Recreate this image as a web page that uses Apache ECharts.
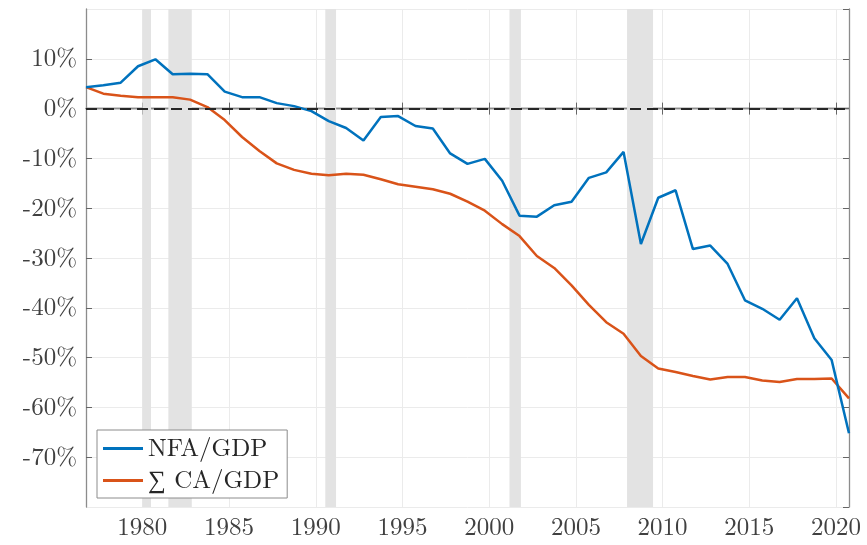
<!DOCTYPE html>
<html>
<head>
<meta charset="utf-8">
<script src="https://cdn.jsdelivr.net/npm/echarts@6/dist/echarts.min.js"></script>
<style>
  html, body { margin: 0; padding: 0; background: #fff; }
  #chart { width: 867px; height: 545px; }
</style>
</head>
<body>
<div id="chart"></div>
<script>
// years of observation (points sit at the end of Q3 of each year)
const years = [1976, 1977, 1978, 1979, 1980, 1981, 1982, 1983, 1984, 1985,
  1986, 1987, 1988, 1989, 1990, 1991, 1992, 1993, 1994, 1995,
  1996, 1997, 1998, 1999, 2000, 2001, 2002, 2003, 2004, 2005,
  2006, 2007, 2008, 2009, 2010, 2011, 2012, 2013, 2014, 2015,
  2016, 2017, 2018, 2019, 2020];
const yearOffset = 0.75;

// NFA/GDP, %
const nfa = [4.3, 4.7, 5.2, 8.5, 9.9, 6.9, 7.0, 6.9, 3.4, 2.3,
  2.3, 1.1, 0.5, -0.5, -2.5, -3.9, -6.4, -1.7, -1.5, -3.5,
  -4.0, -9.0, -11.1, -10.1, -14.5, -21.5, -21.7, -19.4, -18.7, -13.9,
  -12.8, -8.7, -27.2, -17.9, -16.4, -28.2, -27.5, -31.2, -38.5, -40.2,
  -42.4, -38.1, -46.1, -50.5, -65.2];

// cumulated CA/GDP, %
const cumCA = [4.3, 3.0, 2.6, 2.3, 2.3, 2.3, 1.8, 0.3, -2.3, -5.7,
  -8.5, -11.0, -12.3, -13.1, -13.4, -13.1, -13.3, -14.2, -15.2, -15.7,
  -16.2, -17.1, -18.7, -20.5, -23.2, -25.6, -29.6, -32.0, -35.5, -39.4,
  -42.9, -45.2, -49.7, -52.2, -52.9, -53.7, -54.4, -53.9, -53.9, -54.6,
  -54.9, -54.3, -54.3, -54.2, -58.2];

// recession bands (start, end)
const recessions = [[1980.0, 1980.5], [1981.5, 1982.85], [1990.55, 1991.17],
  [2001.17, 2001.83], [2007.95, 2009.45]];

const xTicks = [1980, 1985, 1990, 1995, 2000, 2005, 2010, 2015, 2020];
const xMin = 1976.75, xMax = 2020.75;

const font = "'Latin Modern Roman', 'Liberation Serif', serif";
const axisGray = '#8c8c8c';

const chart = echarts.init(document.getElementById('chart'));

const toPoints = vals => vals.map((v, i) => [years[i] + yearOffset, v]);

const option = {
  animation: false,
  grid: { left: 86, right: 18, top: 9, bottom: 38 },
  legend: {
    left: 97, top: 430,
    orient: 'vertical',
    icon: 'rect',
    itemWidth: 40, itemHeight: 3, itemGap: 7,
    padding: [6, 8, 5, 6],
    borderColor: '#8c8c8c', borderWidth: 1,
    backgroundColor: '#fff',
    textStyle: { fontFamily: font, fontSize: 25, color: '#262626', lineHeight: 24 },
    data: ['NFA/GDP', '∑ CA/GDP']
  },
  xAxis: [{
    type: 'value', min: xMin, max: xMax,
    axisLine: { show: true, lineStyle: { color: axisGray, width: 1.3 } },
    axisTick: { show: true, inside: true, length: 6, customValues: xTicks, lineStyle: { color: '#666' } },
    axisLabel: {
      customValues: xTicks, margin: 8, fontFamily: font, fontSize: 25, color: '#404040',
      formatter: v => String(v)
    },
    splitLine: { show: true, lineStyle: { color: '#ebebeb', width: 1 } }
  }, {
    type: 'value', min: xMin, max: xMax, position: 'top',
    axisLine: { show: true, lineStyle: { color: axisGray, width: 1.3 } },
    axisTick: { show: true, inside: true, length: 6, customValues: xTicks, lineStyle: { color: '#666' } },
    axisLabel: { show: false },
    splitLine: { show: false }
  }],
  yAxis: [{
    type: 'value', min: -80, max: 20, interval: 10,
    axisLine: { show: true, lineStyle: { color: axisGray, width: 1.3 } },
    axisTick: { show: true, inside: true, length: 6, lineStyle: { color: '#666' } },
    axisLabel: {
      showMinLabel: false, showMaxLabel: false, margin: 9,
      fontFamily: font, fontSize: 25, color: '#404040',
      formatter: v => v + '%'
    },
    splitLine: { show: true, lineStyle: { color: '#ebebeb', width: 1 } }
  }, {
    type: 'value', min: -80, max: 20, interval: 10, position: 'right',
    axisLine: { show: true, lineStyle: { color: axisGray, width: 1.3 } },
    axisTick: { show: true, inside: true, length: 6, lineStyle: { color: '#666' } },
    axisLabel: { show: false },
    splitLine: { show: false }
  }],
  series: [{
    name: '∑ CA/GDP',
    type: 'line',
    data: toPoints(cumCA),
    symbol: 'none',
    lineStyle: { color: '#D95319', width: 2.5 },
    itemStyle: { color: '#D95319' },
    z: 3,
    markArea: {
      silent: true,
      itemStyle: { color: '#e3e3e3' },
      data: recessions.map(r => [{ xAxis: r[0] }, { xAxis: r[1] }])
    }
  }, {
    name: 'NFA/GDP',
    type: 'line',
    data: toPoints(nfa),
    symbol: 'none',
    lineStyle: { color: '#0072BD', width: 2.5 },
    itemStyle: { color: '#0072BD' },
    z: 4,
    markLine: {
      silent: true,
      symbol: 'none',
      label: { show: false },
      lineStyle: { color: '#262626', type: [11, 6], width: 2 },
      data: [{ yAxis: 0 }]
    }
  }]
};

chart.setOption(option);
</script>
</body>
</html>
